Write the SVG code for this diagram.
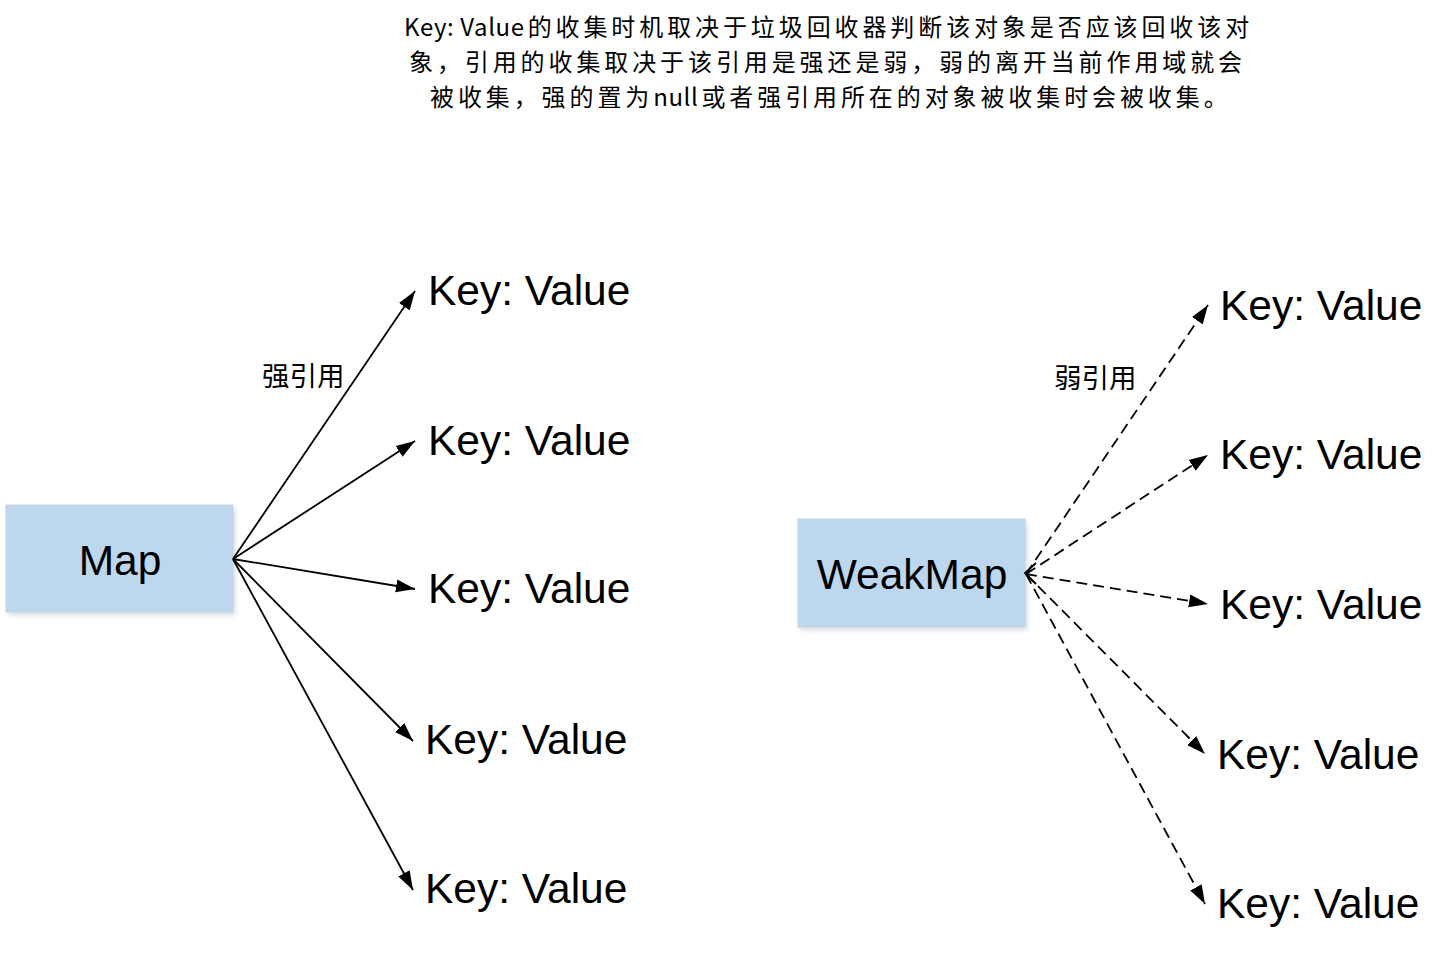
<svg xmlns="http://www.w3.org/2000/svg" width="1455" height="966" viewBox="0 0 1455 966">
  <style>
    .box { fill: #BDD7EE; stroke: #C9D3DC; stroke-width: 1; }
    .big { font-family: "Liberation Sans", "Open Sans", sans-serif; font-size: 42.5px; fill: #000; }
    .cn { font-family: "Noto Sans CJK SC", "Liberation Sans", sans-serif; fill: #000; }
    .title { font-size: 24px; letter-spacing: 3.9px; }
    .lat { letter-spacing: 0.6px; }
    .solid { stroke: #000; stroke-width: 1.8; fill: none; marker-end: url(#ah); }
    .dash { stroke: #000; stroke-width: 1.8; fill: none; stroke-dasharray: 11 6; marker-end: url(#ah); }
  </style>
  <defs>
    <marker id="ah" markerUnits="userSpaceOnUse" markerWidth="20" markerHeight="14" refX="19" refY="7" orient="auto">
      <path d="M0,0.5 L19,7 L0,13.5 z" fill="#000"/>
    </marker>
    <filter id="sh" x="-10%" y="-10%" width="130%" height="130%">
      <feDropShadow dx="2" dy="3" stdDeviation="2" flood-color="#8fa9c0" flood-opacity="0.35"/>
    </filter>
  </defs>
  <rect width="1455" height="966" fill="#fff"/>

  <g id="title" class="cn title">
    <text x="404" y="36"><tspan class="lat">Key: Value</tspan><tspan dx="3">的收集时机取决于垃圾回收器判断该对象是否应该回收该对</tspan></text>
    <text x="409" y="71">象，引用的收集取决于该引用是强还是弱，弱的离开当前作用域就会</text>
    <text x="430" y="106">被收集，强的置为<tspan class="lat">null</tspan><tspan dx="3">或者强引用所在的对象被收集时会被收集。</tspan></text>
  </g>

  <g id="map">
    <rect class="box" x="6" y="505" width="227" height="107" filter="url(#sh)"/>
    <text class="big" x="120" y="575" text-anchor="middle" font-size="46">Map</text>
  </g>
  <g id="weakmap">
    <rect class="box" x="798" y="519" width="227" height="108" filter="url(#sh)"/>
    <text class="big" x="912" y="589" text-anchor="middle" font-size="44">WeakMap</text>
  </g>

  <g id="left-values" class="big">
    <text id="kv-l1" x="428" y="305">Key: Value</text>
    <text id="kv-l2" x="428" y="455">Key: Value</text>
    <text id="kv-l3" x="428" y="603">Key: Value</text>
    <text id="kv-l4" x="425" y="754">Key: Value</text>
    <text id="kv-l5" x="425" y="903">Key: Value</text>
  </g>
  <g id="right-values" class="big">
    <text id="kv-r1" x="1220" y="320">Key: Value</text>
    <text id="kv-r2" x="1220" y="469">Key: Value</text>
    <text id="kv-r3" x="1220" y="619">Key: Value</text>
    <text id="kv-r4" x="1217" y="769">Key: Value</text>
    <text id="kv-r5" x="1217" y="918">Key: Value</text>
  </g>

  <g id="labels" class="cn" font-size="27.5">
    <text x="262" y="386">强引用</text>
    <text x="1054" y="388">弱引用</text>
  </g>

  <g id="connectors">
    <line class="solid" x1="233" y1="559" x2="415" y2="291"/>
    <line class="solid" x1="233" y1="559" x2="415" y2="441"/>
    <line class="solid" x1="233" y1="559" x2="415" y2="589"/>
    <line class="solid" x1="233" y1="559" x2="413" y2="741"/>
    <line class="solid" x1="233" y1="559" x2="413" y2="890"/>

    <line class="dash" x1="1026" y1="574" x2="1208" y2="305"/>
    <line class="dash" x1="1026" y1="574" x2="1208" y2="455"/>
    <line class="dash" x1="1026" y1="574" x2="1208" y2="604"/>
    <line class="dash" x1="1026" y1="574" x2="1205" y2="754"/>
    <line class="dash" x1="1026" y1="574" x2="1205" y2="904"/>
    <path d="M1036,563 L1025,573 L1036,584" stroke="#000" stroke-width="1.8" fill="none"/>
  </g>
</svg>
